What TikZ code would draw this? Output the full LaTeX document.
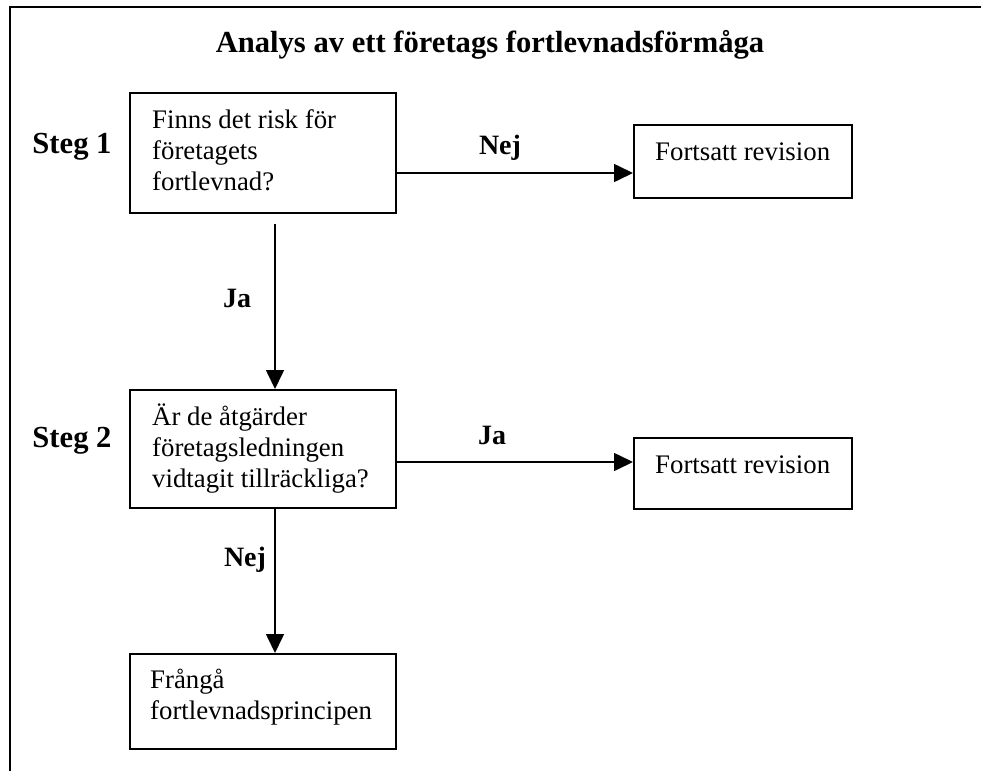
\documentclass[tikz,border=0pt]{standalone}
\usepackage{fontspec}
\setmainfont{Liberation Serif}
\usetikzlibrary{arrows.meta}
\newcommand{\fl}{\rule{0pt}{24pt}}
\begin{document}
\begin{tikzpicture}[x=1pt,y=-1pt,
  box/.style={draw, line width=2pt, rectangle, anchor=north west, inner sep=0pt},
  txt/.style={anchor=north west, inner sep=0pt, align=left, font=\fontsize{26.8}{31.2}\selectfont},
  lbl/.style={anchor=base, inner sep=0pt, font=\fontsize{28}{33}\selectfont\bfseries},
  big/.style={anchor=base, inner sep=0pt, font=\fontsize{30.6}{36}\selectfont\bfseries},
  arr/.style={line width=1.6pt, -{Triangle[length=19pt,width=18pt]}},
  frameline/.style={line width=2.5pt}]
\useasboundingbox (0,0) rectangle (981,771);
\fill[white] (0,0) rectangle (981,771);
\coordinate (fa) at (10,771);
\coordinate (fb) at (10,7);
\coordinate (fc) at (981,7);
\draw[frameline] (fa) -- (fb) -- (fc);

\node[big] (title) at (490,52) {Analys av ett företags fortlevnadsförmåga};

\node[box, minimum width=266pt, minimum height=120pt] (b1) at (129,92) {};
\node[box, minimum width=218pt, minimum height=73pt] (r1) at (633,124) {};
\node[box, minimum width=266pt, minimum height=118pt] (b2) at (129,389) {};
\node[box, minimum width=218pt, minimum height=71pt] (r2) at (633,437) {};
\node[box, minimum width=266pt, minimum height=95pt] (b3) at (129,653) {};

\node[txt] (t1) at ([shift={(23pt,-12pt)}]b1.north west) {\fl Finns det risk för\\företagets\\fortlevnad?};
\node[txt] (t2) at ([shift={(22pt,-12pt)}]r1.north west) {\fl Fortsatt revision};
\node[txt] (t3) at ([shift={(23pt,-12pt)}]b2.north west) {\fl Är de åtgärder\\företagsledningen\\vidtagit tillräckliga?};
\node[txt] (t4) at ([shift={(22pt,-12pt)}]r2.north west) {\fl Fortsatt revision};
\node[txt] (t5) at ([shift={(21pt,-11pt)}]b3.north west) {\fl Frångå\\fortlevnadsprincipen};

\node[big] (s1) at (72,153) {Steg 1};
\node[big] (s2) at (72,447) {Steg 2};

\node[lbl] (nej1) at (500,154) {Nej};
\node[lbl] (ja1) at (237,307) {Ja};
\node[lbl] (ja2) at (492,444) {Ja};
\node[lbl] (nej2) at (245,566) {Nej};

\draw[arr] ([yshift=-20pt]b1.east) -- ([yshift=-20pt]b1.east -| r1.west);
\draw[arr] ([yshift=-13pt]b2.east) -- ([yshift=-13pt]b2.east -| r2.west);
\coordinate (v1) at ([xshift=12pt,yshift=-10pt]b1.south);
\draw[arr] (v1) -- (v1 |- b2.north);
\coordinate (v2) at ([xshift=12pt]b2.south);
\draw[arr] (v2) -- (v2 |- b3.north);
\end{tikzpicture}
\end{document}
